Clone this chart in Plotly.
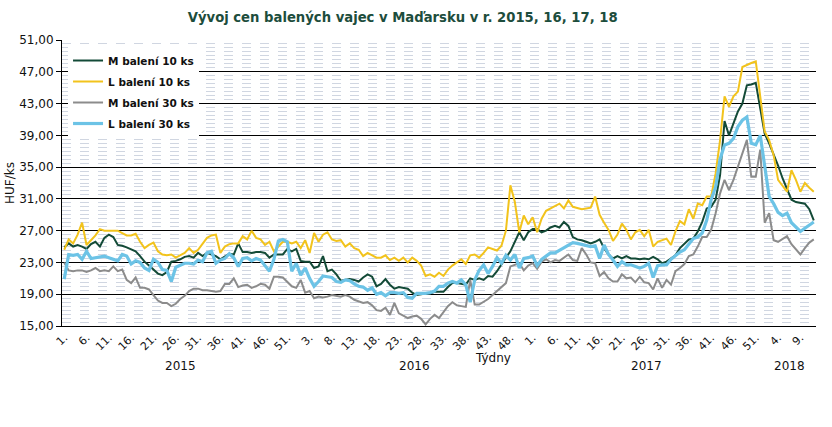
import plotly.graph_objects as go

# weeks: 2015 has 53 ISO weeks, 2016 and 2017 have 52, 2018 up to week 12
years = ["2015", "2016", "2017", "2018"]
weeks_per_year = [53, 52, 52, 12]

# HUF/ks, one row per year
m_10 = [
    24.9, 25.4, 25.0, 25.2, 25.0, 24.7, 25.3, 25.6, 25.0, 26.1,
    26.5, 26.2, 25.2, 25.1, 24.9, 24.7, 24.4, 23.8, 23.1, 22.6,
    22.1, 21.6, 21.4, 21.8, 23.1, 23.2, 23.4, 23.7, 23.8, 23.6,
    24.2, 23.8, 24.2, 24.0, 23.8, 23.4, 23.8, 24.1, 24.0, 25.4,
    24.3, 24.3, 24.2, 24.3, 24.3, 24.2, 23.6, 24.0, 24.0, 24.0,
    24.7, 24.4, 24.7,
    23.2, 23.1, 23.1, 22.3, 22.5, 23.8, 21.9, 22.1, 21.5, 20.7,
    20.8, 20.9, 20.8, 20.6, 21.1, 21.5, 21.2, 20.0, 20.3, 20.9,
    20.2, 19.7, 19.9, 19.8, 19.7, 19.2, 18.9, 19.0, 19.1, 19.1,
    19.3, 19.3, 19.3, 19.9, 20.4, 20.4, 20.3, 20.2, 21.0, 20.8,
    21.0, 20.8, 21.3, 21.2, 21.9, 22.8, 23.6, 24.4, 25.5, 26.8,
    25.8, 26.8,
    27.2, 27.2, 26.8, 27.0, 27.4, 27.6, 27.4, 28.1, 27.6, 26.2,
    25.9, 25.8, 25.6, 25.4, 25.6, 25.9, 24.8, 24.0, 23.5, 23.8,
    23.5, 23.8, 23.5, 23.5, 23.4, 23.5, 23.4, 23.7, 23.4, 22.9,
    23.1, 23.5, 23.9, 24.8, 25.4, 25.9, 26.0, 26.9, 28.1, 29.8,
    30.0, 30.9, 34.0, 40.8, 39.0, 40.5, 42.0, 43.0, 45.3, 45.4,
    45.6, 42.4,
    39.2, 38.0, 36.7, 35.2, 33.6, 32.2, 30.9, 30.6, 30.5, 30.4, 29.7, 28.3,
]

l_10 = [
    24.6, 25.9, 25.4, 26.5, 28.0, 25.2, 25.8, 26.4, 27.2, 27.0,
    27.0, 27.0, 27.0, 26.7, 26.4, 26.4, 26.6, 25.6, 24.8, 25.2,
    25.5, 24.4, 24.0, 23.9, 24.0, 23.6, 23.9, 24.2, 24.8, 24.2,
    24.6, 25.4, 26.1, 26.4, 26.5, 24.2, 25.0, 25.3, 25.4, 25.4,
    26.3, 25.9, 27.0, 26.1, 25.9, 25.2, 25.6, 24.4, 25.0, 25.6,
    25.6, 25.4, 25.6,
    24.8, 25.8, 24.2, 26.7, 25.6, 26.5, 26.8, 25.9, 25.7, 25.8,
    25.0, 25.4, 24.8, 24.6, 23.8, 24.2, 23.9, 23.6, 23.6, 23.9,
    23.3, 23.6, 23.2, 23.6, 23.0, 23.6, 23.2, 22.6, 21.3, 21.5,
    21.2, 21.7, 21.3, 22.1, 22.6, 23.0, 23.4, 22.8, 23.9, 24.0,
    23.6, 24.2, 24.9, 24.7, 24.5, 25.1, 27.0, 32.7, 30.6, 26.8,
    28.9, 27.8,
    28.7, 26.8, 28.5, 29.5, 29.8, 30.0, 30.4, 29.8, 30.8, 30.0,
    29.8, 29.7, 29.8, 29.9, 31.3, 29.0, 28.0, 27.1, 25.7, 26.5,
    27.9, 27.1, 25.9, 26.8, 27.1, 26.3, 27.1, 25.0, 25.6, 25.8,
    26.0, 25.2, 26.9, 28.2, 27.8, 29.7, 28.5, 30.4, 30.2, 31.3,
    31.3, 34.2, 38.4, 43.9, 42.6, 43.9, 44.5, 47.6, 47.9, 48.1,
    48.3, 43.5,
    39.5, 38.4, 36.5, 33.4, 32.6, 31.9, 34.6, 33.4, 31.9, 33.0, 32.4, 31.9,
]

m_30 = [
    23.0, 22.0, 21.9, 22.0, 22.0, 21.8, 22.0, 22.3, 21.9, 22.0,
    21.9, 22.5, 21.9, 22.1, 20.8, 20.4, 21.1, 19.8, 19.8, 19.6,
    18.9, 18.2, 17.9, 17.9, 17.5, 17.8, 18.4, 18.8, 19.4, 19.7,
    19.7, 19.5, 19.5, 19.4, 19.3, 19.4, 20.3, 20.3, 21.0, 19.9,
    20.1, 20.2, 19.8, 20.0, 20.3, 20.2, 19.7, 21.2, 21.2, 21.1,
    20.6, 20.0, 19.8,
    20.8, 19.2, 19.4, 18.5, 18.7, 18.6, 18.7, 18.9, 18.8, 18.7,
    18.9, 18.7, 18.3, 18.1, 17.9, 18.0, 17.6, 17.0, 16.9, 17.3,
    16.4, 17.9, 16.6, 16.3, 16.0, 16.2, 16.3, 15.9, 15.2, 15.9,
    16.4, 16.0, 16.8, 17.5, 18.0, 17.6, 17.5, 17.4, 20.8, 17.7,
    17.7, 18.0, 18.4, 18.9, 19.4, 19.9, 20.4, 22.5, 22.7, 22.9,
    22.0, 22.6,
    22.9, 22.2, 23.1, 23.4, 23.0, 23.3, 23.2, 23.6, 24.0, 23.3,
    23.2, 24.8, 24.0, 23.0, 22.9, 21.3, 21.8, 21.0, 20.6, 20.6,
    21.5, 21.0, 21.1, 20.5, 21.2, 20.5, 20.4, 19.6, 21.0, 19.8,
    20.8, 20.2, 21.9, 22.3, 22.8, 23.8, 24.0, 25.0, 26.2, 26.2,
    27.1, 29.2, 31.7, 33.4, 32.1, 33.4, 35.1, 36.7, 38.4, 33.8,
    33.8, 37.2,
    28.0, 29.2, 25.8, 25.6, 25.9, 26.3, 25.3, 24.6, 24.0, 24.8, 25.5, 25.9,
]

l_30 = [
    20.9, 24.0, 23.9, 24.0, 23.4, 24.4, 23.5, 23.6, 23.8, 23.8,
    23.6, 23.4, 23.2, 24.0, 23.8, 22.8, 23.2, 23.0, 22.3, 22.0,
    23.4, 23.0, 22.1, 22.0, 20.6, 22.4, 22.7, 22.9, 22.9, 22.8,
    23.3, 23.1, 24.2, 24.4, 22.9, 23.3, 23.5, 24.1, 23.6, 22.5,
    23.5, 23.6, 23.2, 23.5, 23.3, 22.6, 21.9, 23.4, 25.7, 25.9,
    25.6, 21.9, 22.9,
    21.4, 22.3, 21.0, 20.0, 20.6, 21.3, 21.2, 21.1, 20.6, 20.5,
    20.8, 20.7, 20.3, 20.0, 19.9, 19.5, 19.8, 19.0, 19.2, 18.8,
    19.2, 19.2, 19.1, 19.2, 18.6, 18.5, 19.1, 19.1, 19.1, 19.2,
    19.4, 20.0, 20.0, 20.4, 20.6, 20.4, 20.8, 20.2, 18.0, 20.8,
    22.0, 22.7, 21.6, 22.5, 23.6, 22.9, 23.9, 23.3, 24.0, 22.3,
    23.5, 23.6,
    23.8, 22.6, 23.4, 23.8, 24.2, 24.2, 24.5, 24.8, 25.2, 25.5,
    25.4, 25.3, 25.2, 25.0, 25.1, 23.5, 25.2, 24.0, 23.3, 22.5,
    23.1, 22.7, 22.7, 22.5, 22.3, 22.5, 22.9, 21.1, 22.6, 22.7,
    22.7, 23.4, 23.9, 24.3, 24.6, 25.3, 26.0, 26.2, 26.7, 28.3,
    30.9, 32.5, 36.0, 37.8, 38.0, 38.6, 40.1, 40.9, 41.3, 38.0,
    37.8, 39.0,
    35.0, 31.3, 30.4, 29.3, 28.9, 29.2, 28.0, 27.5, 26.9, 27.3, 27.7, 28.1,
]

# week number of every point and its position on the axis
week_nr = []
for n in weeks_per_year:
    week_nr += list(range(1, n + 1))
x = list(range(len(week_nr)))

tick_pos = x[::5]
tick_txt = [f"{week_nr[i]}." for i in tick_pos]

series = [
    ("M balení 10 ks", m_10, "#134a37", 2),
    ("L balení 10 ks", l_10, "#f2c31c", 2),
    ("M balení 30 ks", m_30, "#8c8c8c", 2),
    ("L balení 30 ks", l_30, "#6cc3e6", 3.2),
]

fig = go.Figure()
for name, vals, color, width in series:
    fig.add_trace(go.Scatter(
        x=x, y=vals, name=f"<b>{name}</b>", mode="lines", legendgroup=name,
        line=dict(color=color, width=width),
        hoverinfo="skip",
    ))

# year labels under the week ticks
start = 0
for yr, n in zip(years, weeks_per_year):
    fig.add_annotation(x=start + (n - 1) / 2, y=0, xref="x", yref="paper",
                       text=yr, showarrow=False, yshift=-49,
                       font=dict(size=12, color="#111"))
    start += n

fig.add_annotation(x=96, y=0, xref="x", yref="paper", text="Týdny",
                   showarrow=False, yshift=-41, font=dict(size=12, color="#111"))

fig.update_layout(
    width=832, height=427,
    margin=dict(l=62, r=16, t=40, b=101),
    paper_bgcolor="white", plot_bgcolor="white",
    font=dict(family="Verdana, DejaVu Sans", color="#111"),
    separators=", ",
    title=dict(text="<b>Vývoj cen balených vajec v Maďarsku v r. 2015, 16, 17, 18</b>",
               x=0.484, xanchor="center", y=1 - 17 / 427, yanchor="middle",
               font=dict(size=13.2, color="#1d4d3c")),
    showlegend=True,
    legend=dict(x=0.008, y=0.979, xanchor="left", yanchor="top",
                bgcolor="white", traceorder="grouped", tracegroupgap=2,
                font=dict(size=10.5, color="#111", family="Verdana, DejaVu Sans"),
                itemwidth=30),
    hovermode=False,
)

fig.update_xaxes(
    range=[-0.5, len(x) - 0.5],
    tickmode="array", tickvals=tick_pos, ticktext=tick_txt,
    tickangle=-45, tickfont=dict(size=11, color="#111"),
    showgrid=False, zeroline=False,
    showline=True, linecolor="black", linewidth=1, ticks="",
)

fig.update_yaxes(
    range=[15, 51], dtick=4, tick0=15, tickformat=".2f",
    tickfont=dict(size=12, color="#111"),
    title=dict(text="HUF/ks", font=dict(size=12, color="#111"), standoff=2),
    automargin=False,
    showgrid=True, gridcolor="black", gridwidth=1, zeroline=False,
    showline=True, linecolor="black", linewidth=1,
    ticks="outside", ticklen=5, tickcolor="black",
    minor=dict(dtick=0.5, showgrid=True, gridcolor="#d0d6e1", griddash="dash",
               gridwidth=1, ticks=""),
)

# drop the default page margin so the figure sits at the window corner
fig.write_html("out.html", config={"displayModeBar": False},
               post_script="document.body.style.margin='0px';")
